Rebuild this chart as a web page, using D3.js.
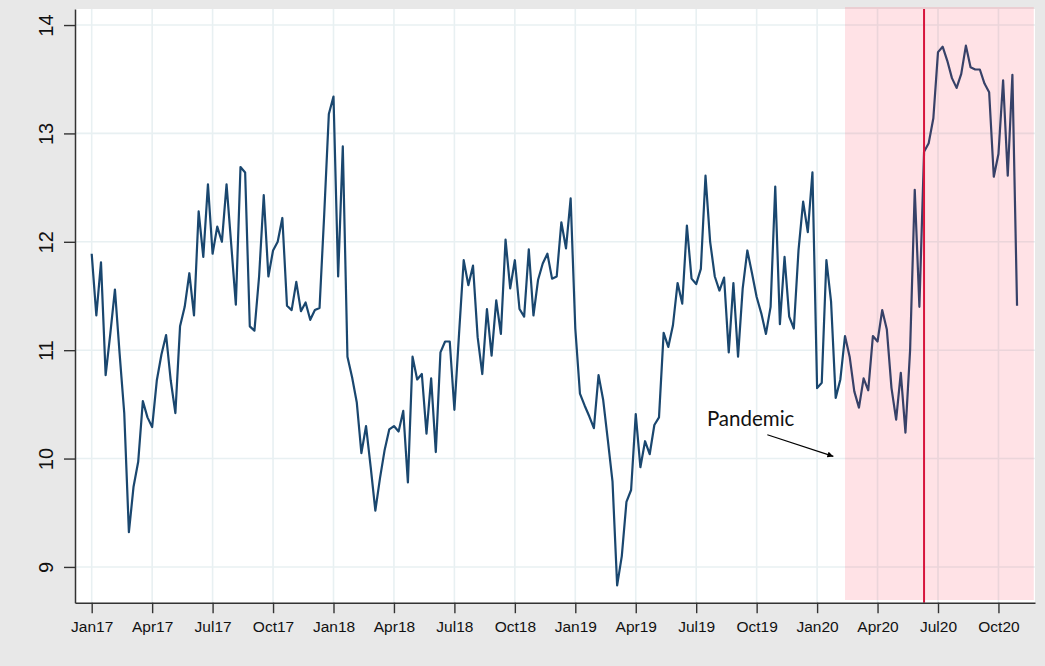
<!DOCTYPE html>
<html>
<head>
<meta charset="utf-8">
<script src="https://cdn.jsdelivr.net/npm/d3@7"></script>
<style>
  body { margin: 0; background: #e8e8e8; }
  svg { display: block; }
</style>
</head>
<body>
<svg id="chart" width="1045" height="666"></svg>
<script>
// weekly series (52 weeks a year), first week is 2017w1
const firstWeek = "2017w1";
const values = [
  11.89, 11.32, 11.81, 10.77, 11.15, 11.56, 10.97, 10.42, 9.32, 9.74,
  9.97, 10.53, 10.38, 10.29, 10.72, 10.96, 11.14, 10.72, 10.42, 11.22,
  11.40, 11.71, 11.32, 12.28, 11.86, 12.53, 11.89, 12.14, 12.00, 12.53,
  11.98, 11.42, 12.69, 12.64, 11.22, 11.18, 11.68, 12.43, 11.68, 11.92,
  12.00, 12.22, 11.41, 11.37, 11.63, 11.36, 11.44, 11.28, 11.37, 11.39,
  12.25, 13.18, 13.34, 11.68, 12.88, 10.94, 10.75, 10.52, 10.05, 10.30,
  9.92, 9.52, 9.82, 10.08, 10.27, 10.30, 10.25, 10.44, 9.78, 10.94,
  10.73, 10.78, 10.23, 10.74, 10.06, 10.98, 11.08, 11.08, 10.45, 11.15,
  11.83, 11.60, 11.78, 11.12, 10.78, 11.38, 10.95, 11.46, 11.15, 12.02,
  11.57, 11.83, 11.38, 11.31, 11.93, 11.32, 11.65, 11.80, 11.89, 11.66,
  11.68, 12.18, 11.94, 12.40, 11.20, 10.60, 10.49, 10.39, 10.28, 10.77,
  10.54, 10.17, 9.79, 8.83, 9.10, 9.60, 9.71, 10.41, 9.92, 10.16,
  10.04, 10.31, 10.38, 11.16, 11.03, 11.23, 11.62, 11.43, 12.15, 11.66,
  11.61, 11.75, 12.61, 12.00, 11.68, 11.55, 11.67, 10.98, 11.62, 10.94,
  11.57, 11.92, 11.71, 11.49, 11.34, 11.15, 11.40, 12.51, 11.24, 11.86,
  11.31, 11.20, 11.92, 12.37, 12.09, 12.64, 10.65, 10.70, 11.83, 11.45,
  10.56, 10.73, 11.13, 10.94, 10.62, 10.47, 10.74, 10.63, 11.13, 11.08,
  11.37, 11.19, 10.65, 10.36, 10.79, 10.24, 11.00, 12.48, 11.40, 12.83,
  12.91, 13.14, 13.75, 13.80, 13.67, 13.51, 13.42, 13.55, 13.81, 13.61,
  13.59, 13.59, 13.46, 13.38, 12.60, 12.81, 13.49, 12.61, 13.54, 11.41
];

const xTickWeeks = ["2017w1", "2017w14", "2017w27", "2017w40",
  "2018w1", "2018w14", "2018w27", "2018w40",
  "2019w1", "2019w14", "2019w27", "2019w40",
  "2020w1", "2020w14", "2020w27", "2020w40"];
const xTickLabels = ["Jan17", "Apr17", "Jul17", "Oct17", "Jan18", "Apr18", "Jul18", "Oct18",
  "Jan19", "Apr19", "Jul19", "Oct19", "Jan20", "Apr20", "Jul20", "Oct20"];
const yTicks = [9, 10, 11, 12, 13, 14];

const pandemicStart = "2020w7";
const pandemicEnd = "2020w48";
const eventWeek = "2020w24";

// weeks counted from 2017w1
function wk(s) {
  const [yr, w] = s.split("w").map(Number);
  return (yr - 2017) * 52 + (w - 1);
}
const start = wk(firstWeek);
const data = values.map((v, i) => ({ t: start + i, value: v }));

const margin = { left: 75, right: 10, top: 9, bottom: 63.3 };
const W = 1045, H = 666;
const svg = d3.select("#chart");

const x = d3.scaleLinear()
  .domain([-3.59, 202.86])
  .range([margin.left, W - margin.right]);
const y = d3.scaleLinear()
  .domain([8.67, 14.148])
  .range([H - margin.bottom, margin.top]);

// plot area
svg.append("rect")
  .attr("x", margin.left).attr("y", margin.top)
  .attr("width", W - margin.left - margin.right)
  .attr("height", H - margin.top - margin.bottom)
  .attr("fill", "#fff");

// grid
const grid = svg.append("g").attr("stroke", "#e8f0f2").attr("stroke-width", 1.6);
grid.selectAll(".gx").data(xTickWeeks).enter().append("line")
  .attr("x1", d => x(wk(d))).attr("x2", d => x(wk(d)))
  .attr("y1", margin.top).attr("y2", H - margin.bottom);
grid.selectAll(".gy").data(yTicks).enter().append("line")
  .attr("y1", d => y(d)).attr("y2", d => y(d))
  .attr("x1", margin.left).attr("x2", W - margin.right);

// series
const line = d3.line().x(d => x(d.t)).y(d => y(d.value));
svg.append("path")
  .datum(data)
  .attr("d", line)
  .attr("fill", "none")
  .attr("stroke", "#1a476f")
  .attr("stroke-width", 2.2)
  .attr("stroke-linejoin", "round");

// pandemic shading
svg.append("rect")
  .attr("x", x(wk(pandemicStart)))
  .attr("width", x(wk(pandemicEnd) - 0.4) - x(wk(pandemicStart)))
  .attr("y", margin.top - 2)
  .attr("height", H - margin.bottom - margin.top - 0.7)
  .attr("fill", "#ff2040")
  .attr("fill-opacity", 0.13);

// event line
svg.append("line")
  .attr("x1", x(wk(eventWeek))).attr("x2", x(wk(eventWeek)))
  .attr("y1", margin.top).attr("y2", H - margin.bottom)
  .attr("stroke", "#d7143c")
  .attr("stroke-width", 2);

// axes
const xAxis = svg.append("g")
  .attr("transform", `translate(0,${H - margin.bottom})`)
  .call(d3.axisBottom(x)
    .tickValues(xTickWeeks.map(wk))
    .tickFormat((d, i) => xTickLabels[i])
    .tickSize(10.5)
    .tickSizeOuter(0));
xAxis.select(".domain").attr("stroke", "#333").attr("stroke-width", 1.5);
xAxis.selectAll(".tick line").attr("stroke", "#333").attr("stroke-width", 1.4);
xAxis.selectAll(".tick text")
  .attr("y", 29).attr("dy", 0)
  .attr("fill", "#111")
  .style("font-family", "'Liberation Sans', Arial, sans-serif")
  .style("font-size", "15.5px");

const yAxis = svg.append("g")
  .attr("transform", `translate(${margin.left},0)`)
  .call(d3.axisLeft(y).tickValues(yTicks).tickFormat(d3.format("d")).tickSize(11).tickSizeOuter(0));
yAxis.select(".domain").attr("stroke", "#333").attr("stroke-width", 1.5);
yAxis.selectAll(".tick line").attr("stroke", "#333").attr("stroke-width", 1.4);
yAxis.selectAll(".tick text")
  .attr("x", 0).attr("dy", 0)
  .attr("text-anchor", "middle")
  .attr("transform", "translate(-22,0) rotate(-90)")
  .attr("fill", "#111")
  .style("font-family", "'Liberation Sans', Arial, sans-serif")
  .style("font-size", "20px");

// annotation
svg.append("defs").append("marker")
  .attr("id", "arrow")
  .attr("viewBox", "0 0 10 10")
  .attr("refX", 10).attr("refY", 5)
  .attr("markerWidth", 6).attr("markerHeight", 6)
  .attr("markerUnits", "userSpaceOnUse")
  .attr("orient", "auto")
  .append("path").attr("d", "M0,0 L10,5 L0,10 z").attr("fill", "#000");
svg.append("line")
  .attr("x1", x(145.3)).attr("y1", y(10.22))
  .attr("x2", x(159.5)).attr("y2", y(10.02))
  .attr("stroke", "#000").attr("stroke-width", 1.2)
  .attr("marker-end", "url(#arrow)");
svg.append("text")
  .attr("x", x(132.3)).attr("y", y(10.30))
  .attr("fill", "#111")
  .style("font-family", "Lato, sans-serif")
  .style("font-size", "20.5px")
  .text("Pandemic");
</script>
</body>
</html>
